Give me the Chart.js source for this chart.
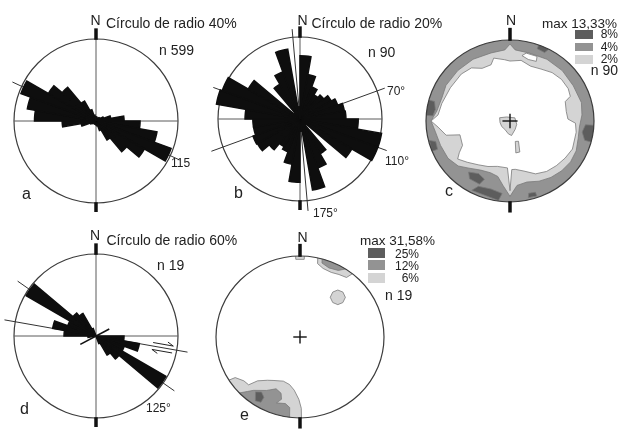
<!DOCTYPE html>
<html>
<head>
<meta charset="utf-8">
<script src="https://cdn.jsdelivr.net/npm/chart.js@4.4.1/dist/chart.umd.min.js"></script>
<style>
  html, body { margin: 0; padding: 0; background: #fff; }
  #fig { position: relative; width: 619px; height: 429px; overflow: hidden;
         font-family: "Liberation Sans", Arial, sans-serif; color: #222; }
  #fig canvas { position: absolute; left: 0; top: 0; pointer-events: none; }
  .t { position: absolute; white-space: nowrap; line-height: 1; }
  .sw { position: absolute; }
</style>
</head>
<body>
<div id="fig">
  <canvas id="roseA" width="619" height="429"></canvas>
  <canvas id="roseB" width="619" height="429"></canvas>
  <canvas id="netC" width="619" height="429"></canvas>
  <canvas id="roseD" width="619" height="429"></canvas>
  <canvas id="netE" width="619" height="429"></canvas>
</div>
<script>
// 10 degree classes, clockwise from N
const binLabels = Array.from({ length: 36 }, (_, i) => i * 10 + "°");

// rose values, % per class (0-10, 10-20 ... 350-360)
const roseA = [2.0, 1.5, 1.5, 1.5, 2.0, 2.4, 3.9, 7.3, 13.7, 21.5, 30.2, 39.0,
  27.3, 19.5, 10.7, 4.9, 2.4, 2.0, 1.5, 1.5, 1.5, 1.5, 1.5, 2.0,
  2.9, 7.3, 16.5, 30.0, 34.0, 39.0, 26.8, 21.5, 11.2, 5.9, 2.9, 2.0];
const roseB = [15.4, 11.0, 8.3, 6.8, 7.6, 8.8, 9.8, 11.0, 11.2, 14.2, 20.2, 20.2,
  14.6, 2.0, 9.8, 12.7, 17.6, 3.0, 15.4, 11.2, 8.5, 7.8, 9.8, 12.0,
  12.2, 11.5, 11.5, 13.4, 20.7, 20.2, 14.6, 2.0, 9.8, 12.2, 17.3, 3.0];
const roseD = [0, 0, 0, 0, 0, 0, 0, 0, 0, 20.5, 32.2, 22.0,
  59, 22.0, 16.1, 5.9, 0, 0, 0, 0, 0, 0, 0, 0,
  0, 0, 5.9, 23.4, 32.2, 22.0, 59, 22.0, 19.0, 5.9, 0, 0];

// stereonet contours, [azimuth, radius] with primitive circle = 1
const cUnder4 = [[0, 0.95], [4, 0.88], [15, 0.87], [30, 0.88], [45, 0.88], [60, 0.87], [75, 0.88],
  [85, 0.86], [95, 0.83], [105, 0.84], [115, 0.87], [125, 0.88], [135, 0.87], [145, 0.85],
  [155, 0.82], [165, 0.78], [174, 0.8], [180, 0.93], [186, 0.8], [192, 0.7], [200, 0.68],
  [210, 0.7], [220, 0.76], [228, 0.83], [238, 0.87], [250, 0.88], [262, 0.9], [270, 0.94],
  [278, 0.88], [290, 0.86], [300, 0.88], [315, 0.88], [330, 0.88], [345, 0.87], [356, 0.88]];
const cUnder2 = [[0, 0.74], [10, 0.76], [20, 0.72], [30, 0.74], [40, 0.78], [50, 0.8], [60, 0.8],
  [67, 0.78], [70, 0.7], [80, 0.68], [88, 0.69], [92, 0.78], [100, 0.8], [115, 0.82], [125, 0.8],
  [135, 0.78], [145, 0.76], [155, 0.72], [165, 0.64], [174, 0.6], [178, 0.6], [180, 0.86],
  [183, 0.58], [195, 0.58], [205, 0.62], [215, 0.66], [225, 0.72], [233, 0.78], [237, 0.72],
  [242, 0.64], [254, 0.62], [257, 0.78], [265, 0.86], [270, 0.94], [275, 0.86], [285, 0.84],
  [300, 0.82], [315, 0.82], [325, 0.8], [333, 0.73], [342, 0.73], [346, 0.8], [355, 0.76]];
const cOver8 = [
  [[274, 0.92], [279, 0.9], [285, 0.93], [285, 1.02], [274, 1.02]],
  [[248, 0.93], [254, 0.92], [256, 0.99], [248, 1.0]],
  [[203, 0.78], [210, 0.75], [218, 0.8], [214, 0.86], [205, 0.86]],
  [[186, 0.9], [195, 0.87], [205, 0.89], [208, 0.97], [188, 0.99]],
  [[93, 0.9], [99, 0.87], [105, 0.92], [105, 1.02], [93, 1.02]],
  [[161, 0.93], [166, 0.92], [167, 0.97], [161, 0.98]],
  [[20, 0.95], [26, 0.94], [28, 1.02], [20, 1.02]]];
const cIsland2 = [
  [[288, 0.13], [321, 0.064], [56, 0.07], [117, 0.09], [149, 0.12], [174, 0.18], [187, 0.16],
   [211, 0.12], [235, 0.12], [261, 0.12]],
  [[166, 0.26], [158, 0.27], [163, 0.4], [170, 0.4]]];
const cHole2 = [[10, 0.82], [16, 0.79], [23, 0.8], [22, 0.86], [13, 0.86]];

const eOver6 = [
  [[238, 1.02], [237, 0.92], [231, 0.86], [226, 0.85], [223, 0.74], [216, 0.66], [210, 0.62],
   [200, 0.58], [192, 0.6], [186, 0.66], [181, 0.77], [179, 0.88], [179, 1.02], [200, 1.02], [220, 1.02]],
  [[12, 1.02], [13, 0.93], [18, 0.89], [25, 0.88], [31, 0.9], [37, 0.92], [39, 1.02]],
  [[37.8, 0.734], [42.6, 0.754], [47.8, 0.729], [50.2, 0.664], [48.4, 0.602], [42.5, 0.577],
   [36.3, 0.608], [35.1, 0.678]],
  [[357, 0.96], [3, 0.96], [3, 1.02], [357, 1.02]]];
const eOver12 = [
  [[227, 1.02], [223, 0.92], [220, 0.86], [211, 0.77], [204, 0.7], [198, 0.73], [196, 0.8],
   [199, 0.86], [192, 0.84], [188, 0.88], [187, 1.02], [205, 1.02]],
  [[15, 1.02], [16, 0.95], [22, 0.92], [29, 0.94], [34, 1.02]]];
const eOver25 = [[218, 0.86], [214, 0.82], [210, 0.86], [210, 0.93], [214, 0.95]];

const LIGHT = "#d4d4d4", MID = "#939393", DARK = "#5d5d5d", EDGE = "#7a7a7a";

function polarPx(s, az, v) {
  const d = Math.sign(v) * s.getDistanceFromCenterForValue(Math.abs(v));
  const a = (az * Math.PI) / 180;
  return [s.xCenter + d * Math.sin(a), s.yCenter - d * Math.cos(a)];
}

function seg(ctx, p, q, color, w) {
  ctx.strokeStyle = color;
  ctx.lineWidth = w;
  ctx.beginPath();
  ctx.moveTo(p[0], p[1]);
  ctx.lineTo(q[0], q[1]);
  ctx.stroke();
}

const roseDecor = {
  id: "roseDecor",
  beforeDatasetsDraw(chart, args, opts) {
    const s = chart.scales.r;
    const ctx = chart.ctx;
    ctx.save();
    opts.lines.forEach((l) => {
      seg(ctx, polarPx(s, l.az, l.from), polarPx(s, l.az, l.to), l.color, l.width);
    });
    ctx.restore();
  },
  afterDatasetsDraw(chart, args, opts) {
    const s = chart.scales.r;
    const ctx = chart.ctx;
    const m = s.max;
    ctx.save();
    seg(ctx, polarPx(s, 0, m * 0.99), polarPx(s, 0, m * 1.13), "#111", 3.5);
    seg(ctx, polarPx(s, 180, m * 0.99), polarPx(s, 180, m * 1.11), "#111", 3.5);
    (opts.marks || []).forEach((l) => {
      seg(ctx, polarPx(s, l.az, l.from), polarPx(s, l.az, l.to), l.color, l.width);
    });
    const h = opts.harpoon;
    if (h) {
      const a = (h.az * Math.PI) / 180;
      const u = [Math.sin(a), -Math.cos(a)];
      const n = [u[1], -u[0]];
      const p1 = polarPx(s, h.az, h.from), p2 = polarPx(s, h.az, h.to);
      const off = (p, k) => [p[0] + n[0] * k, p[1] + n[1] * k];
      const mv = (p, k) => [p[0] + u[0] * k, p[1] + u[1] * k];
      const a1 = off(p1, h.gap), a2 = off(p2, h.gap);
      seg(ctx, a1, a2, "#222", 1);
      seg(ctx, a2, off(mv(a2, -6), 3), "#222", 1);
      const b1 = off(p1, -h.gap), b2 = off(p2, -h.gap);
      seg(ctx, b1, b2, "#222", 1);
      seg(ctx, b1, off(mv(b1, 6), -3), "#222", 1);
    }
    ctx.restore();
  },
};

function makeRose(id, cx, cy, r, values, maxPct, deco) {
  return new Chart(document.getElementById(id), {
    type: "polarArea",
    data: {
      labels: binLabels,
      datasets: [{ data: values, backgroundColor: "#0e0e0e", borderColor: "#0e0e0e",
                   borderWidth: 1.5, borderJoinStyle: "miter" }],
    },
    options: {
      responsive: false,
      animation: false,
      layout: { padding: { left: cx - r, right: 619 - cx - r, top: cy - r, bottom: 429 - cy - r } },
      plugins: { legend: { display: false }, tooltip: { enabled: false }, roseDecor: deco },
      scales: {
        r: {
          min: 0, max: maxPct, startAngle: 0,
          angleLines: { display: false },
          pointLabels: { display: false },
          ticks: { display: false, stepSize: maxPct },
          grid: { circular: true, color: "#3c3c3c", lineWidth: 1.2 },
        },
      },
    },
    plugins: [roseDecor],
  });
}

const AX = "#5a5a5a";
makeRose("roseA", 96, 121, 82, roseA, 40, {
  lines: [
    { az: 0, from: -40, to: 40, color: AX, width: 1 },
    { az: 90, from: -40, to: 40, color: AX, width: 1 },
    { az: 115, from: -45, to: 45, color: "#333", width: 1 },
  ],
});
makeRose("roseB", 300, 119, 82, roseB, 20, {
  lines: [
    { az: 0, from: -20, to: 20, color: AX, width: 1 },
    { az: 90, from: -20, to: 20, color: AX, width: 1 },
    { az: 70, from: -23, to: 22, color: "#333", width: 1 },
    { az: 110, from: -22.5, to: 22.5, color: "#333", width: 1 },
    { az: 175, from: -22, to: 22.5, color: "#333", width: 1 },
  ],
});
makeRose("roseD", 96, 336, 82, roseD, 60, {
  lines: [
    { az: 0, from: -60, to: 60, color: AX, width: 1 },
    { az: 90, from: -60, to: 60, color: AX, width: 1 },
    { az: 100, from: -68, to: 68, color: "#333", width: 1 },
    { az: 125, from: -70, to: 70, color: "#333", width: 1 },
  ],
  marks: [{ az: 62, from: -13, to: 11, color: "#111", width: 1.6 }],
  harpoon: { az: 100, from: 42, to: 57, gap: 3.5 },
});

// stereonets
const toXY = (poly) =>
  poly.map(([az, r]) => ({ x: r * Math.sin((az * Math.PI) / 180), y: r * Math.cos((az * Math.PI) / 180) }));

const stereoDraw = {
  id: "stereo",
  beforeDatasetsDraw(chart, args, opts) {
    const { ctx, scales: { x, y } } = chart;
    const cx = x.getPixelForValue(0), cy = y.getPixelForValue(0);
    const rx = x.getPixelForValue(1) - cx, ry = cy - y.getPixelForValue(1);
    ctx.save();
    ctx.beginPath();
    ctx.ellipse(cx, cy, rx, ry, 0, 0, Math.PI * 2);
    ctx.clip();
    ctx.fillStyle = opts.base;
    ctx.fillRect(cx - rx, cy - ry, rx * 2, ry * 2);
    chart.data.datasets.forEach((ds, i) => {
      const pts = chart.getDatasetMeta(i).data;
      ctx.beginPath();
      pts.forEach((p, k) => (k ? ctx.lineTo(p.x, p.y) : ctx.moveTo(p.x, p.y)));
      ctx.closePath();
      ctx.fillStyle = ds.backgroundColor;
      ctx.fill();
      ctx.strokeStyle = ds.borderColor;
      ctx.lineWidth = 0.8;
      ctx.stroke();
    });
    ctx.restore();

    ctx.save();
    ctx.strokeStyle = "#3c3c3c";
    ctx.lineWidth = 1.2;
    ctx.beginPath();
    ctx.ellipse(cx, cy, rx, ry, 0, 0, Math.PI * 2);
    ctx.stroke();
    const arm = opts.cross;
    seg(ctx, [x.getPixelForValue(-arm), cy], [x.getPixelForValue(arm), cy], "#111", 1.4);
    seg(ctx, [cx, y.getPixelForValue(-arm)], [cx, y.getPixelForValue(arm)], "#111", 1.4);
    seg(ctx, [cx, y.getPixelForValue(0.99)], [cx, y.getPixelForValue(1.15)], "#111", 3.5);
    seg(ctx, [cx, y.getPixelForValue(-0.99)], [cx, y.getPixelForValue(-1.13)], "#111", 3.5);
    ctx.restore();
    return false;
  },
};

function poly(data, fill) {
  return { data: toXY(data), backgroundColor: fill, borderColor: EDGE, pointRadius: 0, showLine: false };
}

function makeNet(id, cx, cy, rx, ry, base, datasets, cross) {
  return new Chart(document.getElementById(id), {
    type: "scatter",
    data: { datasets },
    options: {
      responsive: false,
      animation: false,
      layout: { padding: { left: cx - rx, right: 619 - cx - rx, top: cy - ry, bottom: 429 - cy - ry } },
      plugins: { legend: { display: false }, tooltip: { enabled: false }, stereo: { base, cross } },
      scales: {
        x: { type: "linear", min: -1, max: 1, display: false },
        y: { type: "linear", min: -1, max: 1, display: false },
      },
    },
    plugins: [stereoDraw],
  });
}

makeNet("netC", 510, 121, 84, 81, MID, [
  poly(cUnder4, LIGHT),
  poly(cUnder2, "#ffffff"),
  ...cOver8.map((p) => poly(p, DARK)),
  ...cIsland2.map((p) => poly(p, LIGHT)),
  poly(cHole2, "#ffffff"),
], 0.09);

makeNet("netE", 300, 337, 84, 81, "#ffffff", [
  ...eOver6.map((p) => poly(p, LIGHT)),
  ...eOver12.map((p) => poly(p, MID)),
  poly(eOver25, DARK),
], 0.08);

// text
const fig = document.getElementById("fig");
const labelSpec = [
  ["N", 90.5, 25, 14], ["Círculo de radio 40%", 106, 27.5, 14], ["n 599", 159, 55, 14],
  ["115", 171, 167, 12], ["a", 22, 200, 16],
  ["N", 297.5, 25, 14], ["Círculo de radio 20%", 311.5, 27.5, 14], ["n 90", 368, 57, 14],
  ["70°", 387, 95, 12], ["110°", 385, 165, 12], ["175°", 313, 217, 12], ["b", 234, 199, 16],
  ["N", 506, 24.5, 14], ["max 13,33%", 542, 28, 13.5],
  ["8%", 618, 38.5, 12, "r"], ["4%", 618, 51, 12, "r"], ["2%", 618, 63.5, 12, "r"],
  ["n 90", 618, 75, 14, "r"], ["c", 445, 197, 16],
  ["N", 90, 240, 14], ["Círculo de radio 60%", 106.5, 244.5, 14], ["n 19", 157, 270, 14],
  ["125°", 146, 412, 12], ["d", 20, 415, 16],
  ["N", 297.5, 242, 14], ["max 31,58%", 360, 245, 13.5],
  ["25%", 419, 258, 12, "r"], ["12%", 419, 270, 12, "r"], ["6%", 419, 282, 12, "r"],
  ["n 19", 385, 300, 14], ["e", 240, 421, 16],
];
labelSpec.forEach(([txt, x, base, size, align]) => {
  const d = document.createElement("div");
  d.className = "t";
  d.textContent = txt;
  d.style.fontSize = size + "px";
  d.style.top = base - 0.85 * size + "px";
  if (align === "r") d.style.right = 619 - x + "px";
  else d.style.left = x + "px";
  fig.appendChild(d);
});

const swatches = [
  [575, 30, 18, 9, DARK], [575, 42.5, 18, 8.5, MID], [575, 55, 18, 8.5, LIGHT],
  [368, 248, 17, 10, DARK], [368, 260, 17, 10, MID], [368, 272.5, 17, 10, LIGHT],
];
swatches.forEach(([x, y, w, h, c]) => {
  const d = document.createElement("div");
  d.className = "sw";
  Object.assign(d.style, { left: x + "px", top: y + "px", width: w + "px", height: h + "px", background: c });
  fig.appendChild(d);
});
</script>
</body>
</html>
